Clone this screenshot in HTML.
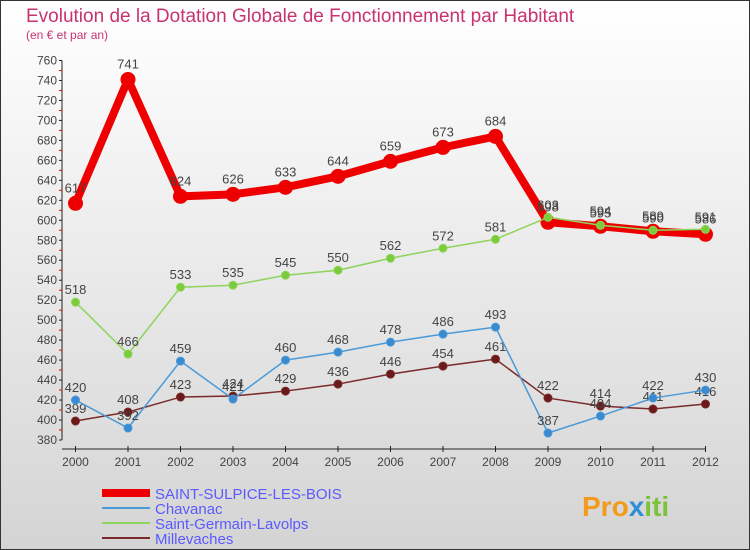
<!DOCTYPE html>
<html><head><meta charset="utf-8"><style>
body{margin:0}
#c{width:750px;height:550px;position:relative;overflow:hidden;font-family:"Liberation Sans",sans-serif}
</style></head><body>
<div id="c">
<svg id="s" width="750" height="550" xmlns="http://www.w3.org/2000/svg">
<defs><linearGradient id="bg" x1="0" y1="0" x2="0" y2="1"><stop offset="0" stop-color="#ffffff"/><stop offset="1" stop-color="#d4d4d4"/></linearGradient></defs>
<rect x="0.5" y="0.5" width="749" height="549" fill="url(#bg)" stroke="#333"/>
<text x="26" y="22" font-size="19" fill="#c8336e">Evolution de la Dotation Globale de Fonctionnement par Habitant</text>
<text x="26" y="39" font-size="12" fill="#c8336e">(en € et par an)</text>
<g id="axes"></g><g id="series"></g><g id="legend"></g>
<text x="582" y="516" font-size="28" font-weight="bold" fill="#f29a1b">Pro<tspan fill="#2f8fd6">x</tspan><tspan fill="#7cc33a">iti</tspan></text>
</svg></div>
<script>
const years=[2000,2001,2002,2003,2004,2005,2006,2007,2008,2009,2010,2011,2012];
const ssb=[617,741,624,626,633,644,659,673,684,598,594,589,586];
const chav=[420,392,459,421,460,468,478,486,493,387,404,422,430];
const sgl=[518,466,533,535,545,550,562,572,581,603,595,590,591];
const mill=[399,408,423,424,429,436,446,454,461,422,414,411,416];
const yTicks=[380,400,420,440,460,480,500,520,540,560,580,600,620,640,660,680,700,720,740,760];
const seriesNames=["SAINT-SULPICE-LES-BOIS","Chavanac","Saint-Germain-Lavolps","Millevaches"];
const NS="http://www.w3.org/2000/svg";
function X(i){return 75.5+i*52.5;}
function Y(v){return 440-(v-380)*(380/380.5);}
function mk(t,a,p){const e=document.createElementNS(NS,t);for(const k in a)e.setAttribute(k,a[k]);p.appendChild(e);return e;}
const ax=document.getElementById('axes');
let l=mk('line',{x1:62,y1:Y(760),x2:62,y2:Y(380),stroke:'#222'},ax);


l=mk('line',{x1:62,y1:449,x2:X(12),y2:449,stroke:'#222'},ax);


yTicks.forEach(v=>{
 mk('line',{x1:59,y1:Y(v),x2:62,y2:Y(v),stroke:'#222'},ax);
 if(v<760) mk('line',{x1:59,y1:Y(v+10),x2:62,y2:Y(v+10),stroke:'#e00'},ax);
 const t=mk('text',{x:57,y:Y(v)+4,'font-size':12,'text-anchor':'end',fill:'#444'},ax);t.textContent=v;
 
 
});
years.forEach((y,i)=>{
 mk('line',{x1:X(i),y1:446,x2:X(i),y2:452,stroke:'#222'},ax);
 const t=mk('text',{x:X(i),y:466,'font-size':12,'text-anchor':'middle',fill:'#444'},ax);t.textContent=y;
 
 
});
const sg=document.getElementById('series');
function draw(vals,color,w,r,name,dot,off){
 const g=mk('g',{},sg);
 
 
 mk('polyline',{points:vals.map((v,i)=>X(i)+','+Y(v)).join(' '),fill:'none',stroke:color,'stroke-width':w,'stroke-linejoin':'round'},g);
 vals.forEach((v,i)=>{
  const c=mk('circle',{cx:X(i),cy:Y(v),r:r,fill:dot,stroke:color,'stroke-width':1},g);
  
  
  const t=mk('text',{x:X(i),y:Y(v)-off,'font-size':13,'text-anchor':'middle',fill:'#444'},g);t.textContent=v;
  
  
 });
}
draw(mill,'#7a2a2a',1.5,4,'series-millevaches','#6b1a1a',8);
draw(chav,'#4a9ad8',1.5,4,'series-chavanac','#3a8ad0',8);
draw(ssb,'#ee0000',8,7,'series-saint-sulpice','#ee0000',11);
draw(sgl,'#8fd45a',1.5,4,'series-saint-germain','#7acc3a',8);
const lg=document.getElementById('legend');
const lc=[['#ee0000',8],['#4a9ad8',2],['#8fd45a',2],['#7a2a2a',2]];
seriesNames.forEach((n,i)=>{
 const y=493+i*15;
 const g=mk('g',{},lg);
 
 
 mk('line',{x1:102,y1:y,x2:150,y2:y,stroke:lc[i][0],'stroke-width':lc[i][1]},g);
 const t=mk('text',{x:155,y:y+6,'font-size':15,fill:'#5a5aff'},g);t.textContent=n;
});
</script></body></html>
